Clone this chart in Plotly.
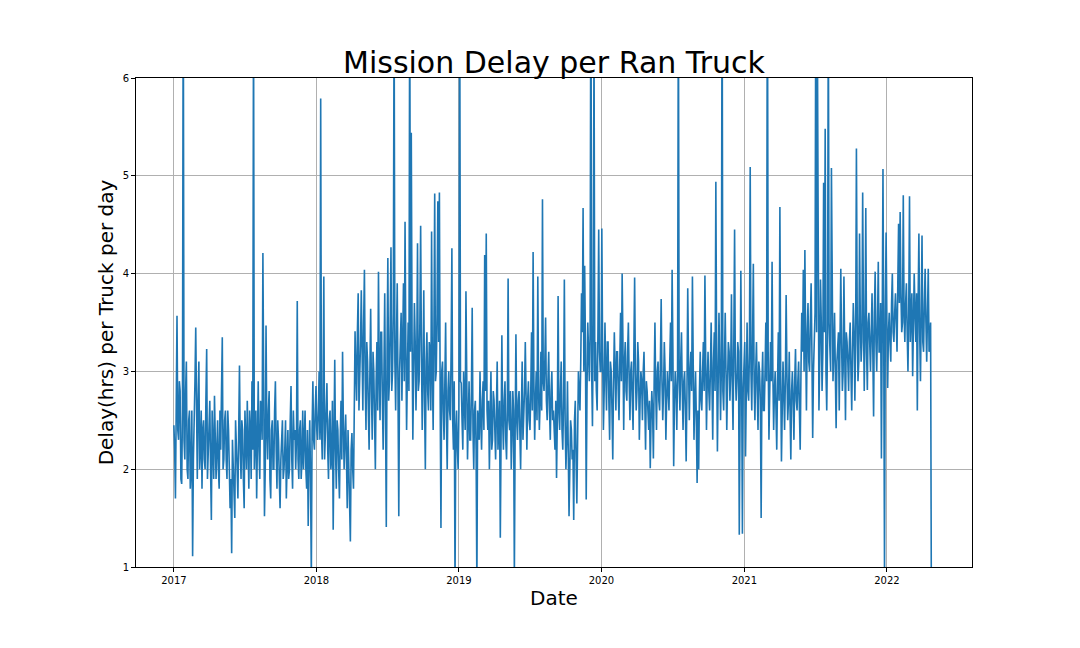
import pandas as pd
import plotly.graph_objs as go

# readings every 2 days from 2017-01-01: the "main" lists hold days 0, 4, 8 ...,
# the "mid" lists hold the readings in between (days 2, 6, 10 ...)
start_date = '2017-01-01'
step = '2D'

delay_2017 = [2.45, 1.7, 3.57, 2.3, 2.8, 1.85, 7.2, 2.1, 3.1, 1.9, 2.6, 2.0, 1.11, 2.4, 3.45, 1.9,
              3.1, 2.2, 1.8, 2.5, 2.0, 3.23, 2.2, 2.7, 1.48, 2.3, 2.75, 1.9, 2.5, 1.8, 2.2, 3.35,
              2.1, 2.6, 1.9, 2.4, 1.6, 1.14, 2.0, 1.5, 2.3, 1.7, 3.06, 1.9, 2.4, 1.6, 2.2, 2.7,
              1.8, 2.4, 2.9, 6.8, 2.3, 1.7, 2.9, 1.9, 2.6, 4.21, 1.52, 3.47, 2.1, 2.8, 1.7, 2.5,
              2.0, 2.9, 1.8, 2.3, 1.6, 2.4, 1.9, 2.2, 1.7, 2.4, 2.0, 2.85, 1.8, 2.3, 2.0, 3.72,
              1.9, 2.5, 2.1, 2.0, 2.6, 1.8, 1.42, 2.5, 0.9, 2.9, 2.2, 2.85]
delay_2018 = [2.3, 3.0, 5.79, 2.1, 3.97, 2.3, 2.88, 1.9, 2.6, 2.1, 1.38, 3.12, 1.8, 2.4, 1.7, 2.7,
              3.2, 2.0, 2.56, 1.6, 2.0, 1.26, 2.37, 1.8, 3.41, 2.7, 3.8, 2.9, 3.83, 2.6, 4.04, 2.4,
              3.1, 2.2, 3.64, 2.3, 3.0, 2.0, 3.3, 4.02, 2.5, 3.4, 2.2, 3.8, 1.41, 4.16, 2.9, 4.27,
              3.0, 6.8, 2.6, 3.9, 1.52, 3.3, 2.7, 3.9, 4.53, 2.4, 3.5, 7.0, 5.44, 2.3, 3.7, 2.6,
              4.31, 2.9, 4.49, 2.4, 3.83, 2.0, 3.4, 2.6, 3.2, 4.43, 2.4, 4.82, 3.0, 4.74, 4.83, 1.4,
              3.1, 2.3, 3.5, 2.0, 3.0, 2.5, 4.26, 2.2, 0.8, 2.6, 2.0]
delay_2019 = [7.0, 2.88, 2.2, 2.6, 3.82, 2.1, 2.9, 2.3, 3.65, 2.0, 2.7, 0.8, 2.5, 3.0, 2.2, 2.9,
              4.19, 4.41, 2.4, 2.0, 3.0, 2.3, 2.7, 2.1, 3.1, 2.4, 1.3, 3.37, 2.2, 2.9, 2.1, 3.95,
              2.4, 2.0, 2.8, 0.9, 3.38, 2.3, 2.8, 2.0, 3.1, 2.5, 3.3, 2.2, 2.9, 2.4, 3.4, 4.22,
              2.3, 3.0, 3.97, 2.4, 3.2, 4.76, 2.8, 3.55, 2.5, 3.2, 2.3, 3.0, 2.6, 2.2, 1.91, 3.77,
              2.4, 3.1, 2.2, 3.94, 2.0, 2.9, 1.52, 2.5, 2.1, 1.48, 2.7, 1.65, 3.0, 2.6, 3.8, 4.67,
              4.08, 1.69, 3.5, 2.9, 7.5, 2.44, 6.5, 3.3, 2.6, 4.45, 3.0]
delay_2020 = [4.46, 2.4, 3.5, 2.6, 3.3, 2.3, 3.0, 2.1, 3.4, 2.6, 3.2, 2.5, 3.6, 4.0, 2.4, 3.3,
              2.7, 3.5, 2.5, 3.1, 2.4, 3.96, 2.6, 3.3, 2.3, 3.0, 2.5, 3.2, 2.2, 2.8, 2.4, 2.01,
              2.8, 2.11, 3.5, 2.4, 3.1, 2.6, 3.74, 2.5, 3.3, 2.3, 3.0, 2.6, 3.5, 4.04, 2.03, 3.0,
              2.4, 7.0, 2.6, 3.4, 2.4, 3.0, 2.08, 3.85, 2.5, 3.2, 3.97, 2.3, 3.0, 1.86, 2.0, 3.2,
              2.6, 3.3, 3.98, 2.4, 3.2, 2.6, 3.5, 2.3, 3.4, 4.94, 2.18, 3.6, 2.5, 7.2, 2.6, 3.6,
              2.4, 3.3, 2.7, 3.79, 2.4, 4.45, 2.7, 3.3, 1.33, 4.03, 1.34, 3.1]
delay_2021 = [2.13, 3.5, 2.7, 5.09, 2.6, 4.1, 2.5, 3.3, 2.4, 3.0, 1.5, 3.2, 2.6, 3.5, 7.5, 2.3,
              3.3, 4.12, 2.4, 3.0, 2.2, 3.4, 4.68, 2.08, 3.1, 2.4, 3.78, 2.5, 3.2, 2.1, 3.0, 2.3,
              3.23, 2.6, 3.1, 2.2, 3.6, 4.04, 4.24, 2.6, 3.7, 3.0, 3.9, 2.32, 3.4, 7.0, 6.5, 2.6,
              3.94, 2.8, 4.93, 5.48, 2.6, 6.8, 3.2, 5.08, 2.9, 3.6, 2.42, 3.3, 2.6, 4.05, 2.8, 3.97,
              2.5, 3.3, 2.8, 3.5, 2.6, 3.7, 2.7, 5.28, 2.9, 4.41, 3.1, 4.83, 2.8, 4.67, 2.81, 3.6,
              3.0, 3.8, 2.54, 4.02, 3.0, 4.12, 3.2, 2.11, 5.07, 0.9, 4.42]
delay_2022 = [2.83, 3.6, 3.1, 4.0, 3.3, 3.8, 3.2, 4.51, 4.63, 3.4, 4.8, 3.3, 3.9, 3.0, 4.79, 3.5,
              2.95, 4.0, 3.3, 2.6, 4.41, 2.9, 4.39, 3.2, 4.05, 3.1, 4.05, 3.4, 0.5]

mid_2017 = [2.2, 2.5, 2.4, 2.9, 1.9, 2.6, 2.3, 2.8, 2.0, 2.5, 1.8, 2.6, 2.1, 2.9, 2.3, 2.7,
            2.0, 2.6, 2.4, 2.1, 2.7, 1.9, 2.5, 2.0, 2.6, 1.9, 2.4, 2.2, 2.0, 2.6, 2.8, 2.0,
            2.5, 2.1, 2.6, 2.0, 1.9, 2.3, 1.7, 2.5, 2.0, 2.6, 2.2, 2.5, 1.9, 2.6, 2.0, 2.2,
            2.6, 1.9, 2.2, 2.0, 2.6, 2.4, 2.2, 2.7, 2.3, 2.9, 2.0, 2.4, 2.6, 1.9, 2.4, 2.0,
            2.6, 2.2, 2.5, 1.9, 2.1, 2.5, 2.0, 2.5, 2.2, 1.9, 2.5, 2.1, 2.6, 2.4, 2.3, 2.1,
            2.4, 1.9, 2.6, 2.3, 2.0, 2.4, 2.1, 1.9, 2.4, 2.3, 2.6, 2.4]
mid_2018 = [2.6, 2.3, 2.4, 2.7, 2.1, 2.6, 2.2, 2.5, 2.0, 2.7, 2.3, 2.2, 2.5, 2.0, 2.3, 2.1,
            2.5, 2.3, 2.1, 2.4, 1.9, 2.2, 2.0, 2.6, 3.0, 3.4, 2.6, 3.3, 3.0, 3.5, 2.9, 3.3,
            2.6, 3.0, 2.8, 3.2, 2.5, 2.9, 2.6, 3.0, 3.4, 2.7, 3.0, 2.6, 3.2, 2.7, 3.5, 2.8,
            3.6, 3.1, 3.3, 2.8, 3.0, 3.6, 3.2, 2.9, 3.3, 3.0, 2.8, 3.2, 3.4, 3.0, 3.3, 3.1,
            2.8, 3.5, 3.2, 3.0, 2.7, 3.1, 2.8, 3.3, 2.6, 3.0, 3.4, 2.9, 3.6, 3.3, 2.7, 3.0,
            2.6, 2.9, 2.5, 2.8, 2.6, 3.2, 2.5, 2.9, 2.4, 2.2, 2.6]
mid_2019 = [2.9, 2.5, 3.0, 2.4, 2.7, 2.5, 2.3, 2.8, 2.4, 2.6, 2.2, 2.6, 2.3, 2.5, 2.7, 2.4,
            2.8, 2.6, 2.7, 2.5, 2.2, 2.8, 2.4, 2.6, 2.2, 2.7, 2.4, 2.5, 2.7, 2.3, 2.6, 2.5,
            2.8, 2.3, 2.6, 2.4, 2.5, 2.7, 2.4, 2.6, 2.3, 2.8, 2.6, 2.7, 2.5, 2.8, 2.6, 2.9,
            2.7, 2.5, 2.8, 2.7, 2.6, 2.9, 3.1, 2.7, 2.9, 2.6, 2.8, 2.5, 2.4, 2.7, 2.5, 2.6,
            2.8, 2.4, 2.7, 2.5, 2.3, 2.2, 2.0, 2.4, 2.2, 2.5, 2.1, 2.3, 2.8, 3.1, 3.4, 3.0,
            3.3, 2.8, 3.2, 3.4, 3.0, 3.5, 2.9, 2.8, 3.4, 3.2, 3.0]
mid_2020 = [3.2, 2.8, 3.0, 3.3, 2.7, 3.1, 2.6, 2.9, 3.0, 3.2, 2.8, 3.1, 2.9, 3.3, 3.1, 2.8,
            3.2, 2.9, 3.0, 2.7, 3.2, 3.0, 2.8, 3.1, 2.7, 2.9, 3.0, 2.7, 2.9, 2.6, 2.7, 2.5,
            2.6, 2.9, 2.8, 3.0, 2.7, 3.1, 2.9, 2.8, 3.0, 2.7, 2.8, 3.1, 2.9, 3.2, 2.7, 2.8,
            3.0, 2.9, 3.1, 2.8, 2.9, 2.6, 2.8, 3.1, 3.0, 2.8, 3.1, 2.7, 2.5, 2.6, 2.8, 2.7,
            3.0, 2.8, 3.1, 2.9, 2.8, 3.0, 2.9, 3.1, 2.8, 3.2, 2.9, 3.1, 3.0, 2.8, 3.1, 3.0,
            2.9, 3.2, 3.0, 2.9, 3.3, 3.0, 2.9, 3.2, 2.6, 3.0, 2.8, 3.3]
mid_2021 = [3.1, 2.8, 3.2, 3.0, 3.3, 2.9, 3.0, 2.8, 3.1, 2.7, 2.9, 2.6, 3.0, 2.9, 3.2, 2.8,
            2.9, 3.0, 2.8, 2.6, 2.9, 2.7, 3.0, 2.6, 2.8, 2.9, 3.0, 2.7, 2.6, 2.8, 2.7, 2.9,
            2.7, 2.9, 2.6, 3.0, 3.2, 3.0, 3.3, 3.4, 3.1, 3.5, 3.2, 3.0, 3.6, 3.4, 3.3, 3.1,
            3.5, 3.2, 3.4, 3.0, 3.3, 3.5, 3.0, 3.4, 3.2, 3.0, 3.1, 3.4, 3.2, 3.3, 3.0, 3.2,
            3.4, 3.1, 3.3, 3.0, 3.2, 3.4, 3.3, 3.6, 3.1, 3.5, 3.3, 3.6, 3.4, 3.2, 3.5, 3.3,
            3.4, 3.2, 3.6, 3.3, 3.5, 3.2, 3.7, 3.4, 3.3, 3.6, 3.5]
mid_2022 = [3.4, 3.3, 3.7, 3.4, 3.6, 3.5, 3.9, 3.7, 3.8, 3.5, 3.6, 3.7, 3.4, 3.6, 3.3, 3.8,
            3.5, 3.6, 3.8, 3.7, 3.4, 3.6, 3.3, 3.7, 3.5, 3.6, 3.2, 3.5]

main = delay_2017 + delay_2018 + delay_2019 + delay_2020 + delay_2021 + delay_2022
mid = mid_2017 + mid_2018 + mid_2019 + mid_2020 + mid_2021 + mid_2022

delay = []
for a, b in zip(main, mid):
    delay += [a, b]
delay.append(main[-1])
dates = pd.date_range(start_date, periods=len(delay), freq=step)

font = 'DejaVu Sans'

fig = go.Figure()
fig.add_scatter(x=dates, y=delay, mode='lines',
                line=dict(color='#1f77b4', width=1.6),
                showlegend=False)

# page body has an 8px margin, so the margins are shifted to land the axes where they belong
fig.update_layout(
    width=1080, height=648,
    paper_bgcolor='white', plot_bgcolor='white',
    font=dict(family=font, color='black', size=10),
    margin=dict(l=128, r=116, t=70, b=89),
    title=dict(text='Mission Delay per Ran Truck', x=0.5, xref='paper', xanchor='center',
               y=1, yref='paper', yanchor='bottom', pad=dict(b=5),
               font=dict(family=font, size=30, color='black')),
    xaxis=dict(
        title=dict(text='Date', font=dict(size=20), standoff=5),
        range=['2016-09-26', '2022-08-07'],
        tickformat='%Y', dtick='M12', tick0='2017-01-01',
        showgrid=True, gridcolor='#b0b0b0', gridwidth=0.8,
        showline=True, linecolor='black', linewidth=1, mirror=True,
        ticks='outside', ticklen=4, tickcolor='black',
        zeroline=False),
    yaxis=dict(
        title=dict(text='Delay(hrs) per Truck per day', font=dict(size=20), standoff=3),
        range=[1, 6], tickmode='linear', tick0=1, dtick=1,
        showgrid=True, gridcolor='#b0b0b0', gridwidth=0.8,
        showline=True, linecolor='black', linewidth=1, mirror=True,
        ticks='outside', ticklen=4, tickcolor='black',
        zeroline=False),
)

fig.write_html("out.html")
